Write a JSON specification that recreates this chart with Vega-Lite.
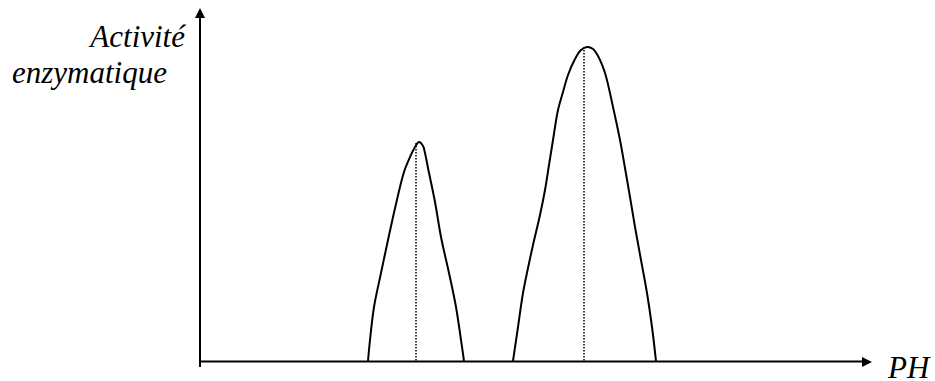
{
  "$schema": "https://vega.github.io/schema/vega-lite/v6.json",
  "width": 935,
  "height": 381,
  "padding": 0,
  "autosize": {"type": "none"},
  "background": "white",
  "config": {"view": {"stroke": null}},
  "datasets": {
    "courbes": [
      {"pic": "1", "ordre": 1, "ph": 168, "activite": 0},
      {"pic": "1", "ordre": 2, "ph": 170, "activite": 21},
      {"pic": "1", "ordre": 3, "ph": 174, "activite": 54},
      {"pic": "1", "ordre": 4, "ph": 181, "activite": 88},
      {"pic": "1", "ordre": 5, "ph": 188, "activite": 121},
      {"pic": "1", "ordre": 6, "ph": 196, "activite": 157},
      {"pic": "1", "ordre": 7, "ph": 204, "activite": 189},
      {"pic": "1", "ordre": 8, "ph": 210, "activite": 204},
      {"pic": "1", "ordre": 9, "ph": 215, "activite": 214},
      {"pic": "1", "ordre": 10, "ph": 219, "activite": 219},
      {"pic": "1", "ordre": 11, "ph": 223, "activite": 215},
      {"pic": "1", "ordre": 12, "ph": 225, "activite": 208},
      {"pic": "1", "ordre": 13, "ph": 228, "activite": 193},
      {"pic": "1", "ordre": 14, "ph": 235, "activite": 159},
      {"pic": "1", "ordre": 15, "ph": 241, "activite": 124},
      {"pic": "1", "ordre": 16, "ph": 249, "activite": 88},
      {"pic": "1", "ordre": 17, "ph": 256, "activite": 54},
      {"pic": "1", "ordre": 18, "ph": 261, "activite": 21},
      {"pic": "1", "ordre": 19, "ph": 264, "activite": 0},
      {"pic": "2", "ordre": 1, "ph": 313, "activite": 0},
      {"pic": "2", "ordre": 2, "ph": 318, "activite": 34},
      {"pic": "2", "ordre": 3, "ph": 323, "activite": 68},
      {"pic": "2", "ordre": 4, "ph": 328, "activite": 93},
      {"pic": "2", "ordre": 5, "ph": 333, "activite": 116},
      {"pic": "2", "ordre": 6, "ph": 340, "activite": 146},
      {"pic": "2", "ordre": 7, "ph": 345, "activite": 171},
      {"pic": "2", "ordre": 8, "ph": 349, "activite": 196},
      {"pic": "2", "ordre": 9, "ph": 353, "activite": 221},
      {"pic": "2", "ordre": 10, "ph": 358, "activite": 251},
      {"pic": "2", "ordre": 11, "ph": 363, "activite": 269},
      {"pic": "2", "ordre": 12, "ph": 368, "activite": 286},
      {"pic": "2", "ordre": 13, "ph": 375, "activite": 302},
      {"pic": "2", "ordre": 14, "ph": 381, "activite": 311},
      {"pic": "2", "ordre": 15, "ph": 387, "activite": 314},
      {"pic": "2", "ordre": 16, "ph": 393, "activite": 312},
      {"pic": "2", "ordre": 17, "ph": 398, "activite": 305},
      {"pic": "2", "ordre": 18, "ph": 405, "activite": 288},
      {"pic": "2", "ordre": 19, "ph": 413, "activite": 254},
      {"pic": "2", "ordre": 20, "ph": 420, "activite": 221},
      {"pic": "2", "ordre": 21, "ph": 425, "activite": 193},
      {"pic": "2", "ordre": 22, "ph": 430, "activite": 164},
      {"pic": "2", "ordre": 23, "ph": 435, "activite": 134},
      {"pic": "2", "ordre": 24, "ph": 441, "activite": 101},
      {"pic": "2", "ordre": 25, "ph": 447, "activite": 68},
      {"pic": "2", "ordre": 26, "ph": 452, "activite": 34},
      {"pic": "2", "ordre": 27, "ph": 456, "activite": 0}
    ],
    "optimums": [
      {"ph": 216, "activite": 218},
      {"ph": 384, "activite": 314}
    ],
    "axes": [
      {"axe": "y", "ph": 0, "activite": -6, "ph2": 0, "activite2": 346},
      {"axe": "x", "ph": 0, "activite": -0.5, "ph2": 664, "activite2": -0.5}
    ],
    "fleches": [
      {"forme": "M0,-1L-1,1L1,1Z", "ph": 0, "activite": 348},
      {"forme": "M1,0L-1,-1L-1,1Z", "ph": 667, "activite": -1}
    ],
    "titres_y": [
      {"texte": "Activité", "ph": -15, "activite": 314},
      {"texte": "enzymatique", "ph": -33, "activite": 278}
    ],
    "titres_x": [
      {"texte": "PH", "ph": 688, "activite": -17}
    ]
  },
  "layer": [
    {
      "data": {"name": "axes"},
      "mark": {"type": "rule", "color": "black", "strokeWidth": 2},
      "encoding": {
        "x": {"field": "ph", "type": "quantitative", "scale": {"domain": [-200, 735], "zero": false, "nice": false}, "axis": null},
        "y": {"field": "activite", "type": "quantitative", "scale": {"domain": [-20, 361], "zero": false, "nice": false}, "axis": null},
        "x2": {"field": "ph2"},
        "y2": {"field": "activite2"}
      }
    },
    {
      "data": {"name": "fleches"},
      "mark": {"type": "point", "filled": true, "color": "black", "size": 100, "opacity": 1},
      "encoding": {
        "x": {"field": "ph", "type": "quantitative", "axis": null},
        "y": {"field": "activite", "type": "quantitative", "axis": null},
        "shape": {"field": "forme", "type": "nominal", "scale": null}
      }
    },
    {
      "data": {"name": "optimums"},
      "mark": {"type": "rule", "color": "black", "strokeWidth": 1.5, "strokeDash": [1.5, 1.5]},
      "encoding": {
        "x": {"field": "ph", "type": "quantitative", "axis": null},
        "y": {"field": "activite", "type": "quantitative", "axis": null},
        "y2": {"datum": 0}
      }
    },
    {
      "data": {"name": "courbes"},
      "mark": {"type": "line", "color": "black", "strokeWidth": 2, "interpolate": "catmull-rom"},
      "encoding": {
        "x": {"field": "ph", "type": "quantitative", "axis": null},
        "y": {"field": "activite", "type": "quantitative", "axis": null},
        "detail": {"field": "pic", "type": "nominal"},
        "order": {"field": "ordre", "type": "quantitative"}
      }
    },
    {
      "data": {"name": "titres_y"},
      "mark": {"type": "text", "font": "Liberation Serif", "fontStyle": "italic", "fontSize": 31, "align": "right", "baseline": "alphabetic", "color": "black"},
      "encoding": {
        "x": {"field": "ph", "type": "quantitative", "axis": null},
        "y": {"field": "activite", "type": "quantitative", "axis": null},
        "text": {"field": "texte"}
      }
    },
    {
      "data": {"name": "titres_x"},
      "mark": {"type": "text", "font": "Liberation Serif", "fontStyle": "italic", "fontSize": 31, "align": "left", "baseline": "alphabetic", "color": "black"},
      "encoding": {
        "x": {"field": "ph", "type": "quantitative", "axis": null},
        "y": {"field": "activite", "type": "quantitative", "axis": null},
        "text": {"field": "texte"}
      }
    }
  ]
}
